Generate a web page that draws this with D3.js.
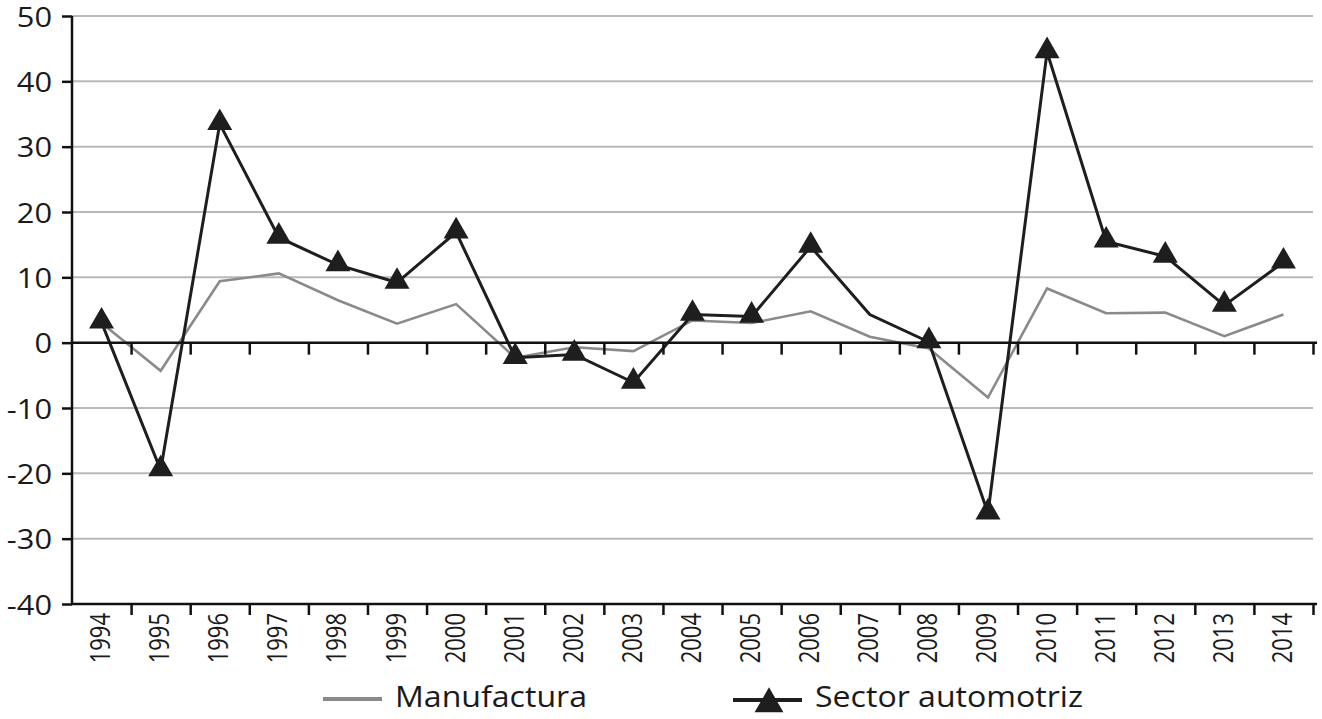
<!DOCTYPE html>
<html><head><meta charset="utf-8">
<script src="https://cdn.jsdelivr.net/npm/d3@7"></script>
<style>
html,body{margin:0;padding:0;background:#fff;}
svg{display:block;font-family:"Open Sans",sans-serif;}
</style></head>
<body>
<svg id="c" width="1322" height="719"></svg>
<script>
const years = ["1994","1995","1996","1997","1998","1999","2000","2001","2002","2003","2004","2005","2006","2007","2008","2009","2010","2011","2012","2013","2014"];
const manufactura = [3.0,-4.3,9.4,10.6,6.5,2.9,5.9,-2.3,-0.7,-1.3,3.4,3.0,4.8,0.9,-0.9,-8.4,8.3,4.5,4.6,1.0,4.3];
const automotriz = [3.1,-19.5,33.5,16.1,11.9,9.2,16.9,-2.3,-1.8,-6.1,4.3,4.0,14.7,4.3,0.1,-26.1,44.5,15.5,13.2,5.7,12.3];
const unmarkedYears = ["2007"];
const yTicks = [-40,-30,-20,-10,0,10,20,30,40,50];
const legendLabels = ["Manufactura","Sector automotriz"];

const svg = d3.select("#c");
const L = 72, R = 1313, T = 16, B = 604;
const x = d3.scaleBand().domain(years).range([L,R]).padding(0);
const xe = d3.scaleLinear().domain([0,years.length]).range([L,R]);
const y = d3.scaleLinear().domain([-40,50]).range([B,T]);

// gridlines
svg.append("g").selectAll("line").data(yTicks.filter(v=>v!==0 && v!==-40)).join("line")
  .attr("x1",L).attr("x2",R).attr("y1",d=>y(d)).attr("y2",d=>y(d))
  .attr("stroke","#b9b9b9").attr("stroke-width",2);

// y axis
const ya = svg.append("g").attr("transform",`translate(${L},0)`)
  .call(d3.axisLeft(y).tickValues(yTicks).tickSize(10).tickFormat(d=>String(d)));
ya.select(".domain").attr("stroke","#111").attr("stroke-width",2.5).attr("d",`M0,${B}V${T}`);
ya.selectAll(".tick line").attr("stroke","#111").attr("stroke-width",2.5);
ya.selectAll(".tick text").attr("font-size",28).attr("fill","#1a1a1a").attr("font-family","Open Sans")
  .attr("x",0).attr("dy","0.36em").attr("transform","translate(-20,0) scale(1.1,1)");

// bottom axis line at -40 with boundary ticks
function edgeAxis(yy, len){
  const g = svg.append("g").attr("transform",`translate(0,${yy})`)
    .call(d3.axisBottom(xe).tickValues(d3.range(1,years.length+1)).tickSize(len).tickFormat(""));
  g.select(".domain").attr("stroke","#111").attr("stroke-width",2.5).attr("d",`M${L},0H${R+4}`);
  g.selectAll(".tick line").attr("stroke","#111").attr("stroke-width",2.5);
  return g;
}
edgeAxis(y(-40),11);

// year labels
const xa = svg.append("g").attr("transform",`translate(0,${B})`)
  .call(d3.axisBottom(x).tickSize(0).tickPadding(0));
xa.select(".domain").remove();
xa.selectAll(".tick text")
  .attr("font-size",22).attr("fill","#1a1a1a").attr("font-family","Open Sans")
  .attr("text-anchor","end").attr("dy","0.36em")
  .attr("transform","translate(-1,9) rotate(-90) scale(1,1.2)").attr("x",0).attr("y",0);

// lines
const cx = d => x(d) + x.bandwidth()/2;
const lineGen = arr => d3.line().x((d,i)=>cx(years[i])).y(d=>y(d))(arr);
svg.append("path").attr("d",lineGen(manufactura)).attr("fill","none")
  .attr("stroke","#8a8a8a").attr("stroke-width",2.6).attr("stroke-linejoin","miter");
svg.append("path").attr("d",lineGen(automotriz)).attr("fill","none")
  .attr("stroke","#1e1e1e").attr("stroke-width",3).attr("stroke-linejoin","miter");

// zero axis (drawn over lines like the reference)
edgeAxis(y(0),12);

// markers
const tri = d3.symbol().type(d3.symbolTriangle).size(270);
svg.append("g").selectAll("path").data(years.map((yr,i)=>({yr,v:automotriz[i]})).filter(d=>!unmarkedYears.includes(d.yr)))
  .join("path").attr("d",tri)
  .attr("transform",d=>`translate(${cx(d.yr)},${y(d.v)-1})`)
  .attr("fill","#1e1e1e");

// legend
const lg = svg.append("g");
lg.append("line").attr("x1",323).attr("x2",382).attr("y1",699).attr("y2",699).attr("stroke","#8a8a8a").attr("stroke-width",4);
lg.append("text").attr("x",395).attr("y",707).text(legendLabels[0]).attr("font-size",28.5).attr("fill","#1a1a1a")
  .attr("textLength",192).attr("lengthAdjust","spacingAndGlyphs");
lg.append("line").attr("x1",733).attr("x2",802).attr("y1",700).attr("y2",700).attr("stroke","#1e1e1e").attr("stroke-width",4);
lg.append("path").attr("d",d3.symbol().type(d3.symbolTriangle).size(360)).attr("transform","translate(769,704)").attr("fill","#1e1e1e");
lg.append("text").attr("x",815).attr("y",707).text(legendLabels[1]).attr("font-size",28.5).attr("fill","#1a1a1a")
  .attr("textLength",268).attr("lengthAdjust","spacingAndGlyphs");
</script>
</body></html>
